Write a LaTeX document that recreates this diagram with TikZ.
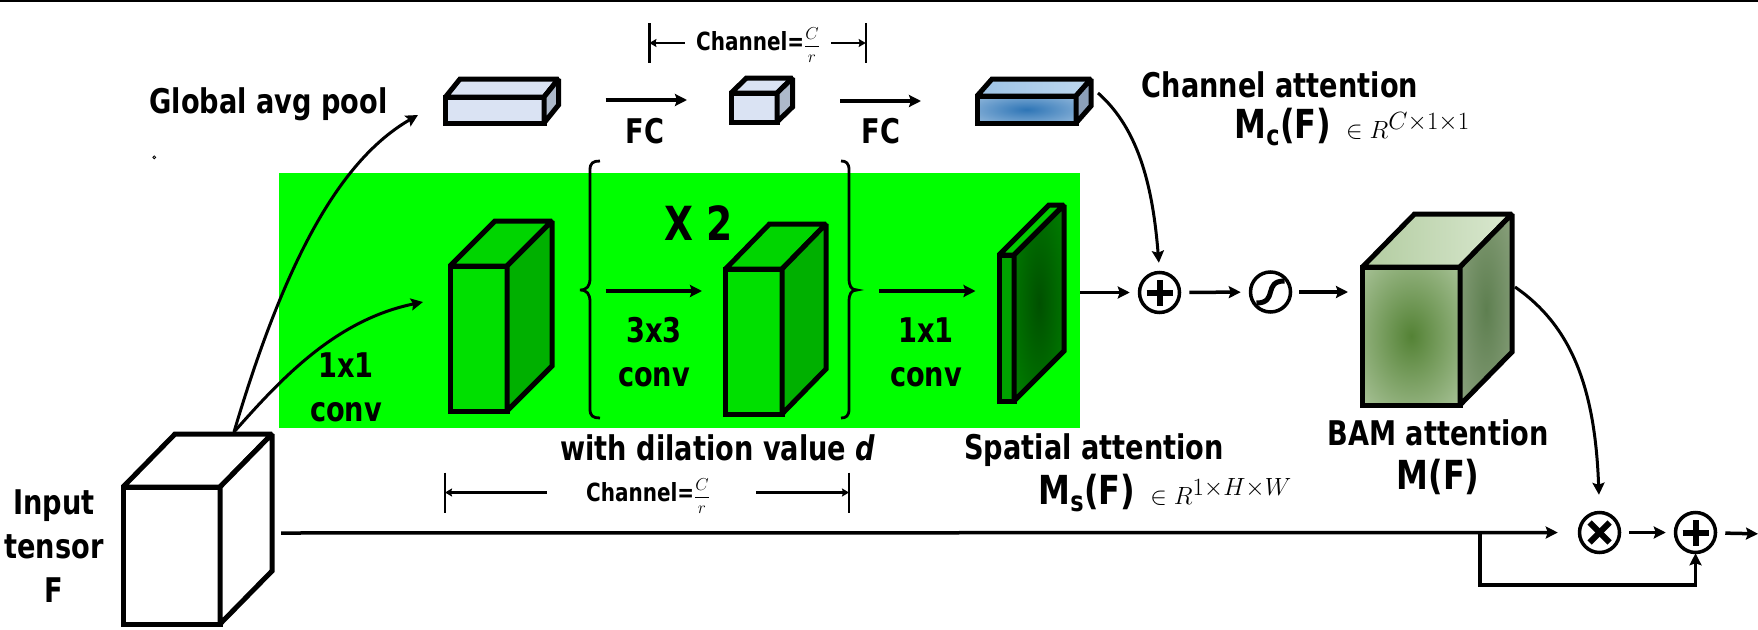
\documentclass[tikz,border=0pt]{standalone}
\usepackage{fontspec}
\setmainfont{DejaVu Sans}[FakeStretch=0.8]
\usetikzlibrary{arrows.meta, positioning, calc, shapes.geometric}
\definecolor{cgreen}{HTML}{00FF00}
\definecolor{cfront}{HTML}{00E000}
\definecolor{cside}{HTML}{00B000}
\definecolor{cpale}{HTML}{DAE3F3}
\definecolor{cslate}{HTML}{ADB9CA}
\definecolor{glowin}{HTML}{000000}
\definecolor{glowout}{HTML}{FFFFFF}
\pgfdeclareradialshading[glowin,glowout]{glow}{\pgfpointorigin}{color(0bp)=(glowin); color(58bp)=(glowout)}
\tikzset{
  every picture/.style={x=1pt, y=-1pt, line width=3pt},
  face/.style={draw=black, line width=5pt, inner sep=0pt, outer sep=0pt, line join=miter, miter limit=1.5},
  glowing/.style 2 args={/utils/exec={\definecolor{glowin}{HTML}{#1}\definecolor{glowout}{HTML}{#2}}, shade, shading=glow},
  conn/.style={draw=black, line width=3.5pt},
  arrow/.style={conn, -{Stealth[length=12pt, width=12pt, inset=2pt]}},
  gap/.style={shorten <=8pt, shorten >=8pt},
  dimarrow/.style={draw=black, line width=2.2pt, -{Stealth[length=7pt, width=8pt, inset=1pt]}},
  bar/.style={draw=black, line width=2.4pt},
  brace/.style={draw=black, line width=2.8pt},
  opcircle/.style={circle, draw=black, line width=3.5pt, minimum size=40pt, inner sep=0pt},
  opplus/.style={opcircle, path picture={
      \draw[line width=6pt] ([xshift=-13pt]path picture bounding box.center) -- ([xshift=13pt]path picture bounding box.center);
      \draw[line width=6pt] ([yshift=-13pt]path picture bounding box.center) -- ([yshift=13pt]path picture bounding box.center);}},
  optimes/.style={opcircle, path picture={
      \draw[line width=6pt] ([shift={(-10pt,-10pt)}]path picture bounding box.center) -- ([shift={(10pt,10pt)}]path picture bounding box.center);
      \draw[line width=6pt] ([shift={(-10pt,10pt)}]path picture bounding box.center) -- ([shift={(10pt,-10pt)}]path picture bounding box.center);}},
  opsigmoid/.style={opcircle, path picture={
      \draw[line width=5pt] ([shift={(-14pt,-11pt)}]path picture bounding box.center)
        .. controls ([shift={(8pt,-11pt)}]path picture bounding box.center) and ([shift={(-8pt,11pt)}]path picture bounding box.center)
        .. ([shift={(14pt,11pt)}]path picture bounding box.center);}},
  label/.style={font=\fontsize{34}{44}\selectfont\bfseries, align=center, inner sep=0pt},
  biglabel/.style={font=\fontsize{47}{50}\selectfont\bfseries, inner sep=0pt},
  dimlabel/.style={font=\fontsize{25}{28}\selectfont\bfseries, inner sep=0pt},
}
\newcommand{\cuboid}[8]{
  \node[face, #6, anchor=north west, minimum width=#3, minimum height=#4] (#1) at #2 {};
  \path[face, #7] (#1.north west) -- ++#5 -- ($(#1.north east)+#5$) -- (#1.north east) -- cycle;
  \path[face, #8] (#1.north east) -- ++#5 -- ($(#1.south east)+#5$) -- (#1.south east) -- cycle;
}
\newcommand{\mathpart}[1]{{\mdseries\fontsize{33}{36}\selectfont\hspace{15pt}$#1$}}
\newcommand{\mapname}[1]{{\fontsize{40}{44}\selectfont #1}}
\newcommand{\ratio}{{\fontsize{18}{22}\selectfont$\displaystyle\frac{C}{r}$}}
\begin{document}
\begin{tikzpicture}
  \useasboundingbox (0,0) rectangle (1758,629);
  \draw[line width=2.5pt] (0,0.8) -- (1758,0.8);
  \fill[cgreen] (279,173) rectangle (1080,428);
  \node[diamond, draw=black, line width=0.8pt, inner sep=0.8pt] (speck) at (154.3,157.3) {};

  \cuboid{input}{(123,487)}{97pt}{137pt}{(52,-53)}{fill=white}{fill=white}{fill=white}
  \cuboid{pool}{(445.5,97)}{98.5pt}{26pt}{(14.5,-18)}{fill=cpale}{fill=cpale}{fill=cslate}
  \cuboid{shrink}{(731,93)}{46pt}{29pt}{(15.5,-15)}{fill=cpale}{fill=cpale}{fill=cslate}
  \cuboid{channel}{(977,96)}{99pt}{27pt}{(15,-17)}{glowing={2E75B6}{D4E4F4}}{left color={rgb,255:red,157;green,195;blue,230}, right color={rgb,255:red,189;green,215;blue,238}}{fill={rgb,255:red,140;green,160;blue,185}}
  \cuboid{convone}{(450,266)}{57pt}{145pt}{(45,-45)}{fill=cfront}{fill=cfront!95!black}{fill=cside}
  \cuboid{convtwo}{(725.5,269)}{56.5pt}{145pt}{(44,-45)}{fill=cfront}{fill=cfront!95!black}{fill=cside}
  \cuboid{spatial}{(999,255)}{15pt}{146pt}{(50,-50)}{fill=cside!92!black}{fill=cfront!90!black}{glowing={005000}{00A000}}
  \cuboid{bam}{(1362.5,267)}{97.5pt}{138pt}{(52,-53)}{glowing={548235}{DCEAD4}}{left color={rgb,255:red,178;green,204;blue,160}, right color={rgb,255:red,218;green,232;blue,208}}{glowing={5E7F50}{A8B89C}}

  \node[opplus] (addone) at (1159.5,292.5) {};
  \node[opsigmoid] (sigma) at (1270.5,292) {};
  \node[optimes] (times) at (1599.5,532.5) {};
  \node[opplus] (addtwo) at (1695.5,532.5) {};

  \coordinate (inputtop) at (234,432);
  \coordinate (poolin) at (418,115);
  \coordinate (convin) at (423,302);
  \coordinate (fconea) at (605.5,100);
  \coordinate (fconeb) at (687,100);
  \coordinate (fctwoa) at (840,101);
  \coordinate (fctwob) at (921,101);
  \coordinate (repa) at (605.5,291);
  \coordinate (repb) at (702,291);
  \coordinate (lasta) at (879,291);
  \coordinate (lastb) at (975.5,291);
  \coordinate (spatialout) at (1080,292.5);
  \coordinate (bamin) at (1348,292);
  \coordinate (mainstart) at (281,533);
  \coordinate (tee) at (1480,533);
  \coordinate (teelow) at (1480,585);
  \coordinate (outend) at (1766,534);
  \coordinate (channelout) at (1098,93);
  \coordinate (bamout) at (1515,287);
  \coordinate (topl) at (649.4,43);
  \coordinate (topr) at (865.7,43);
  \coordinate (lowl) at (445,492.5);
  \coordinate (lowr) at (849,492.5);

  \draw[arrow, line width=3pt] (inputtop) .. controls (285,260) and (340,160) .. (poolin);
  \draw[arrow, line width=3pt] (inputtop) .. controls (280,380) and (335,320) .. (convin);
  \draw[arrow] (fconea) -- (fconeb);
  \draw[arrow] (fctwoa) -- (fctwob);
  \draw[arrow] (repa) -- (repb);
  \draw[arrow] (lasta) -- (lastb);
  \draw[arrow, shorten >=8pt] (spatialout) -- (addone);
  \draw[arrow, gap] (addone) -- (sigma);
  \draw[arrow, shorten <=7pt] (sigma) -- (bamin);
  \draw[arrow, line width=3pt, shorten >=8pt] (channelout) .. controls (1140,130) and (1153,190) .. (addone.north);
  \draw[arrow, line width=3pt, shorten >=16pt] (bamout) .. controls (1570,325) and (1595,385) .. (times.north);
  \draw[arrow, shorten >=20pt] (mainstart) -- (times);
  \draw[arrow, gap] (times) -- (addtwo);
  \draw[arrow, shorten >=-1pt] (tee) -- (teelow) -| (addtwo.south);
  \draw[arrow, shorten <=8pt, shorten >=8pt] (addtwo) -- (outend);

  \draw[brace] (600,161) .. controls (593,161) and (590,163) .. (590,170) -- (590,278)
    .. controls (590,286) and (587,290) .. (580,290) .. controls (587,290) and (590,294) .. (590,302)
    -- (590,409) .. controls (590,416) and (593,418) .. (600,418);
  \draw[brace] (841,161) .. controls (846,161) and (849,163) .. (849,170) -- (849,278)
    .. controls (849,286) and (851,290) .. (857,290) .. controls (851,290) and (849,294) .. (849,302)
    -- (849,409) .. controls (849,416) and (846,418) .. (841,418);

  \node[label] (globalpool) at (268.5,104) {Global avg pool};
  \node[label] (fcone) at (645,131) {FC};
  \node[label] (fctwo) at (881,131) {FC};
  \node[label] (chanatt) at (1280,85) {Channel attention};
  \node[label, anchor=west] (mcf) at (1233,127) {\mapname{M\textsubscript{c}(F)}\mathpart{\in R^{C\times 1\times 1}}};
  \node[biglabel] (repeatlab) at (699,223) {X 2};
  \node[label] (convlabone) at (346,387) {1x1\\conv};
  \node[label] (convlabtwo) at (654,352) {3x3\\conv};
  \node[label] (convlabthree) at (926,352) {1x1\\conv};
  \node[label] (dilation) at (718,448) {with dilation value \textit{d}};
  \node[label] (spatatt) at (1094,450) {Spatial attention};
  \node[label, anchor=west] (msf) at (1037,493) {\mapname{M\textsubscript{s}(F)}\mathpart{\in R^{1\times H\times W}}};
  \node[label] (bamatt) at (1438,433) {BAM attention};
  \node[label] (bamname) at (1438,477) {\mapname{M(F)}};
  \node[label] (inputlab) at (54,546) {Input\\tensor\\F};

  \node[dimlabel] (topdim) at (758,45) {Channel=\ratio};
  \node[dimlabel] (lowdim) at (648,496) {Channel=\ratio};
  \draw[bar] ($(topl)+(0,-20)$) -- ($(topl)+(0,20)$);
  \draw[bar] ($(topr)+(0,-20)$) -- ($(topr)+(0,20)$);
  \draw[bar] ($(lowl)+(0,-20)$) -- ($(lowl)+(0,20)$);
  \draw[bar] ($(lowr)+(0,-20)$) -- ($(lowr)+(0,20)$);
  \draw[dimarrow, shorten <=10pt] (topdim.west |- topl) -- (topl);
  \draw[dimarrow, shorten <=10pt] (topdim.east |- topr) -- (topr);
  \draw[dimarrow, shorten <=38pt] (lowdim.west |- lowl) -- (lowl);
  \draw[dimarrow, shorten <=45pt] (lowdim.east |- lowr) -- (lowr);
\end{tikzpicture}
\end{document}
